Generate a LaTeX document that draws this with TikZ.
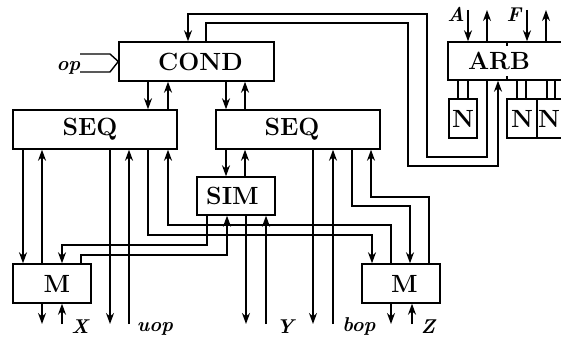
\documentclass[tikz,border=0pt]{standalone}
\usetikzlibrary{arrows.meta}
\begin{document}
\begin{tikzpicture}[x=1pt,y=-1pt,
  line width=1.4pt,
  >={Stealth[length=11pt,width=8pt,inset=3.5pt]},
  box/.style={draw,line width=1.4pt,inner sep=1pt,font=\fontsize{24.88}{28}\selectfont\bfseries},
  btxt/.style={inner sep=0pt,font=\fontsize{24.88}{28}\selectfont\bfseries},
  lbl/.style={inner sep=0pt,font=\fontsize{20}{24}\selectfont\bfseries\itshape}]
\useasboundingbox (0,0) rectangle (561,342);
\clip (0,0) rectangle (561,342);
% boxes
\node[box,minimum width=155pt,minimum height=39pt] (COND) at (196.5,61.5) {COND\hspace*{-8pt}};
\node[box,minimum width=164pt,minimum height=39pt] (SEQ1) at (95,129.5) {\hspace*{-10pt}SEQ};
\node[box,minimum width=164pt,minimum height=39pt] (SEQ2) at (298,129.5) {\hspace*{-12pt}SEQ};
\node[box,minimum width=78pt,minimum height=38pt] (SIM) at (236,196) {\hspace*{-7pt}SIM};
\node[box,minimum width=78pt,minimum height=39pt] (M1) at (52,283.5) {M\hspace*{-10pt}};
\node[box,minimum width=78pt,minimum height=39pt] (M2) at (401,283.5) {M\hspace*{-7pt}};
\node[box,minimum width=152pt,minimum height=38pt] (ARB) at (524,61) {};
\node[btxt] (ARBt) at (499,61) {ARB};
\node[box,minimum width=28pt,minimum height=39pt] (N1) at (463,118.5) {N};
\node[box,minimum width=30pt,minimum height=39pt] (N2) at (522,118.5) {N};
\node[box,minimum width=30pt,minimum height=39pt] (N3) at (552,118.5) {};
\node[btxt] (N3t) at (549,118.5) {N};
% ARB ticks
\draw (507,0 |- ARB.north) -- ++(0,5);
\draw (507,0 |- ARB.south) -- ++(0,-5);
% op input
\coordinate (optip) at (COND.west);
\draw (80,54) -- (110,54) -- (optip) -- (110,72) -- (80,72);
\node[lbl,anchor=base east] (op) at (81,71) {op};
% COND <-> ARB
\draw[->] (487,0 |- ARB.south) |- (427,157) |- (188,14) -- (188,0 |- COND.north);
\draw[->] (206,0 |- COND.north) |- (408,23) |- (498,166) -- (498,0 |- ARB.south);
% COND <-> SEQ
\draw[->] (148,0 |- COND.south) -- (148,0 |- SEQ1.north);
\draw[->] (168,0 |- SEQ1.north) -- (168,0 |- COND.south);
\draw[->] (226,0 |- COND.south) -- (226,0 |- SEQ2.north);
\draw[->] (245,0 |- SEQ2.north) -- (245,0 |- COND.south);
% SEQ1 bottom
\coordinate (bot) at (0,324);
\draw[->] (23,0 |- SEQ1.south) -- (23,0 |- M1.north);
\draw[->] (42,0 |- M1.north) -- (42,0 |- SEQ1.south);
\draw[->] (110,0 |- SEQ1.south) -- (110,0 |- bot);
\draw[->] (129,0 |- bot) -- (129,0 |- SEQ1.south);
\draw[->] (148,0 |- SEQ1.south) -- (148,235) -| (372,0 |- M2.north);
\draw[->] (391,0 |- M2.north) |- (168,225) -- (168,0 |- SEQ1.south);
% SEQ2 bottom
\draw[->] (226,0 |- SEQ2.south) -- (226,0 |- SIM.north);
\draw[->] (245,0 |- SIM.north) -- (245,0 |- SEQ2.south);
\draw[->] (313,0 |- SEQ2.south) -- (313,0 |- bot);
\draw[->] (333,0 |- bot) -- (333,0 |- SEQ2.south);
\draw[->] (352,0 |- SEQ2.south) -- (352,206) -| (410,0 |- M2.north);
\draw[->] (429,0 |- M2.north) |- (371,197) -- (371,0 |- SEQ2.south);
% SIM bottom
\draw[->] (207,0 |- SIM.south) |- (62,245) -- (62,0 |- M1.north);
\draw[->] (81,0 |- M1.north) |- (227,255) -- (227,0 |- SIM.south);
\draw[->] (246,0 |- SIM.south) -- (246,0 |- bot);
\draw[->] (266,0 |- bot) -- (266,0 |- SIM.south);
% M bottoms
\draw[->] (42,0 |- M1.south) -- (42,0 |- bot);
\draw[->] (62,0 |- bot) -- (62,0 |- M1.south);
\draw[->] (391,0 |- M2.south) -- (391,0 |- bot);
\draw[->] (412,0 |- bot) -- (412,0 |- M2.south);
% ARB top
\coordinate (topy) at (0,10);
\draw[->] (468,0 |- topy) -- (468,0 |- ARB.north);
\draw[->] (487,0 |- ARB.north) -- (487,0 |- topy);
\draw[->] (527,0 |- topy) -- (527,0 |- ARB.north);
\draw[->] (546,0 |- ARB.north) -- (546,0 |- topy);
% ARB - N
\draw (458,0 |- ARB.south) -- (458,0 |- N1.north);
\draw (468,0 |- ARB.south) -- (468,0 |- N1.north);
\draw (517,0 |- ARB.south) -- (517,0 |- N2.north);
\draw (526,0 |- ARB.south) -- (526,0 |- N2.north);
\draw (547,0 |- ARB.south) -- (547,0 |- N3.north);
\draw (555,0 |- ARB.south) -- (555,0 |- N3.north);
% labels
\node[lbl,anchor=base] (A) at (456,22) {A};
\node[lbl,anchor=base] (F) at (514,22) {F};
\node[lbl,anchor=base] (X) at (80,333) {X};
\node[lbl,anchor=base] (uop) at (155,331) {uop};
\node[lbl,anchor=base] (Y) at (285,333) {Y};
\node[lbl,anchor=base] (bop) at (359,331) {bop};
\node[lbl,anchor=base] (Z) at (428,333) {Z};
\end{tikzpicture}
\end{document}
